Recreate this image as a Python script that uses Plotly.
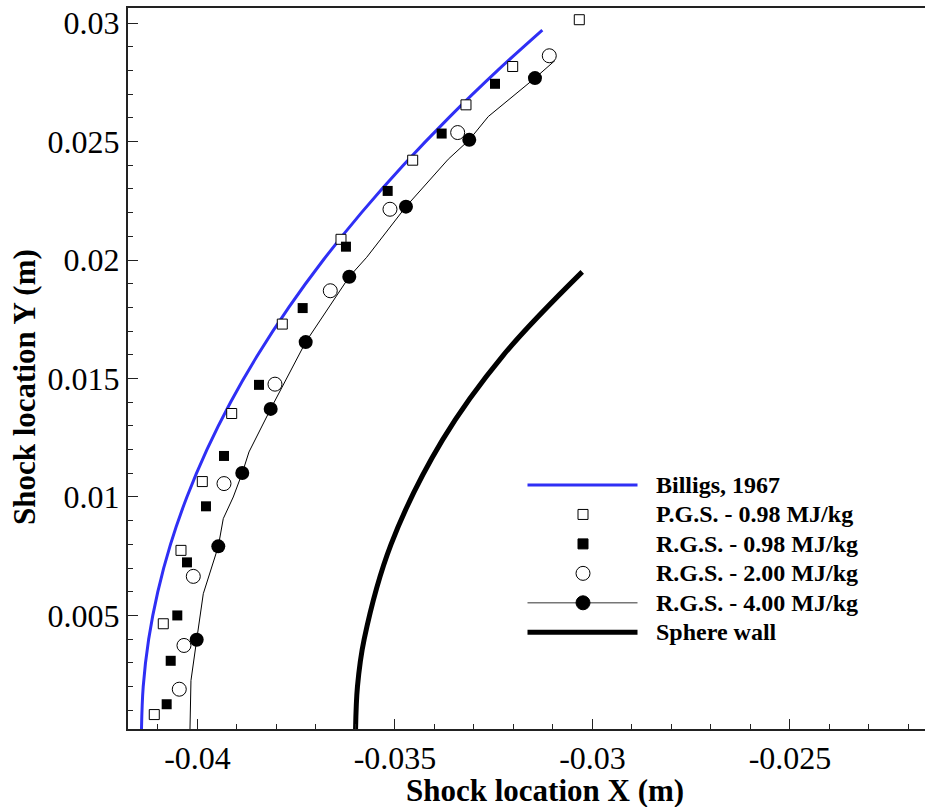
import plotly.graph_objects as go

# ---------------- data ----------------
billigs_x = [-0.04142, -0.041374, -0.041236, -0.041005, -0.040683, -0.040268, -0.039761,
             -0.039162, -0.038471, -0.037689, -0.036815, -0.035848, -0.03479,
             -0.033641, -0.0324, -0.03127]
billigs_y = [0.0, 0.002, 0.004, 0.006, 0.008, 0.010, 0.012,
             0.014, 0.016, 0.018, 0.020, 0.022, 0.024,
             0.026, 0.028, 0.0297]

pgs098_x = [-0.030334, -0.03202, -0.033203, -0.034552, -0.036367, -0.037853,
            -0.039134, -0.039878, -0.040418, -0.040866, -0.041094]
pgs098_y = [0.03014, 0.028166, 0.026548, 0.024212, 0.020874, 0.017296,
            0.013523, 0.010651, 0.007748, 0.004651, 0.000819]

rgs098_x = [-0.032468, -0.033818, -0.035185, -0.036241, -0.037337, -0.038443,
            -0.039329, -0.039785, -0.040266, -0.040511, -0.040678, -0.04078]
rgs098_y = [0.027436, 0.025336, 0.022915, 0.020562, 0.017972, 0.014732,
            0.011732, 0.009607, 0.007241, 0.005002, 0.003088, 0.001255]

rgs200_x = [-0.031094, -0.033413, -0.035127, -0.036638, -0.038038, -0.039329,
            -0.040106, -0.040342, -0.040461]
rgs200_y = [0.028618, 0.025378, 0.022142, 0.018703, 0.014761, 0.010566,
            0.00665, 0.003735, 0.001889]

rgs400_x = [-0.031456, -0.033119, -0.034722, -0.036157, -0.037261, -0.038147,
            -0.038866, -0.039473, -0.04002, -0.04019]
rgs400_y = [0.027676, 0.02507, 0.022252, 0.019295, 0.016536, 0.013718,
            0.011014, 0.007917, 0.003976, 0.000186]

# full computed shock line for 4.00 MJ/kg (has more points than markers)
rgs400_line_x = [-0.030949, -0.031456, -0.032638, -0.033119, -0.033651, -0.034722,
                 -0.035716, -0.036157, -0.037261, -0.038147, -0.038696, -0.038866,
                 -0.039094, -0.039347, -0.039473, -0.039853, -0.04002, -0.040165, -0.04019]
rgs400_line_y = [0.02842, 0.027676, 0.026054, 0.02507, 0.024254, 0.022252,
                 0.020114, 0.019295, 0.016536, 0.013718, 0.011901, 0.011014,
                 0.01, 0.009087, 0.007917, 0.005919, 0.003976, 0.002256, 0.000186]

wall_x = [-0.036, -0.03595, -0.03578, -0.0351, -0.0338, -0.03225, -0.03026]
wall_y = [0.0, 0.002, 0.004, 0.008, 0.0124, 0.016, 0.0195]

x_tickvals = [-0.04, -0.035, -0.03, -0.025]
x_ticktext = ["-0.04", "-0.035", "-0.03", "-0.025"]
y_tickvals = [0.005, 0.01, 0.015, 0.02, 0.025, 0.03]
y_ticktext = ["0.005", "0.01", "0.015", "0.02", "0.025", "0.03"]

names = ["Billigs, 1967", "P.G.S. - 0.98 MJ/kg", "R.G.S. - 0.98 MJ/kg",
         "R.G.S. - 2.00 MJ/kg", "R.G.S. - 4.00 MJ/kg", "Sphere wall"]

x_title = "Shock location X (m)"
y_title = "Shock location Y (m)"

# ---------------- figure ----------------
SERIF = "Liberation Serif"
BLUE = "#2f2ff5"
W, H = 925, 807
ML, MR, MT, MB = 128, 0, 8, 78
PW, PH = W - ML - MR, H - MT - MB


def px_x(px):
    return (px - ML) / PW


def px_y(py):
    return (H - MB - py) / PH


fig = go.Figure()

fig.add_trace(go.Scatter(x=wall_x, y=wall_y, mode="lines", name=names[5],
                         line=dict(color="black", width=5, shape="spline")))
fig.add_trace(go.Scatter(x=billigs_x, y=billigs_y, mode="lines", name=names[0],
                         line=dict(color=BLUE, width=3, shape="spline")))
fig.add_trace(go.Scatter(x=rgs400_line_x, y=rgs400_line_y, mode="lines",
                         name=names[4] + " (line)",
                         line=dict(color="black", width=1), hoverinfo="skip"))
fig.add_trace(go.Scatter(x=pgs098_x, y=pgs098_y, mode="markers", name=names[1],
                         marker=dict(symbol="square", size=10, color="white",
                                     line=dict(color="black", width=1))))
fig.add_trace(go.Scatter(x=rgs098_x, y=rgs098_y, mode="markers", name=names[2],
                         marker=dict(symbol="square", size=10, color="black",
                                     line=dict(width=0))))
fig.add_trace(go.Scatter(x=rgs200_x, y=rgs200_y, mode="markers", name=names[3],
                         marker=dict(symbol="circle", size=14, color="white",
                                     line=dict(color="black", width=1))))
fig.add_trace(go.Scatter(x=rgs400_x, y=rgs400_y, mode="markers", name=names[4],
                         marker=dict(symbol="circle", size=14, color="black",
                                     line=dict(width=0)),
                         cliponaxis=False))

axis_common = dict(
    showgrid=False, zeroline=False,
    showline=True, linecolor="#222222", linewidth=2,
    ticks="inside", ticklen=10, tickwidth=1, tickcolor="#222222",
    tickfont=dict(family=SERIF, size=32, color="black"),
)

fig.update_xaxes(range=[-0.041759, -0.021582], tickmode="array",
                 tickvals=x_tickvals, ticktext=x_ticktext, mirror=True,
                 minor=dict(tickmode="linear", tick0=0, dtick=0.001, ticks="inside",
                            ticklen=5, tickcolor="#222222"),
                 **axis_common)
fig.update_yaxes(range=[0.00021, 0.030634], tickmode="array",
                 tickvals=y_tickvals, ticktext=y_ticktext,
                 minor=dict(tickmode="linear", tick0=0, dtick=0.001, ticks="inside",
                            ticklen=5, tickcolor="#222222"),
                 **axis_common)

# axis titles
fig.add_annotation(text=x_title, xref="paper", yref="paper", x=px_x(545), y=px_y(790),
                   xanchor="center", yanchor="middle", showarrow=False,
                   font=dict(family=SERIF, size=31, color="black", weight="bold"))
fig.add_annotation(text=y_title, xref="paper", yref="paper", x=px_x(24), y=px_y(387),
                   xanchor="center", yanchor="middle", showarrow=False, textangle=-90,
                   font=dict(family=SERIF, size=31, color="black", weight="bold"))

# ---------------- legend (drawn in the Tecplot style) ----------------
LEG_ROW0, LEG_DY = 485.0, 29.45
LEG_L0, LEG_L1, LEG_MK, LEG_TX = 527.5, 637.5, 583.0, 654.0
row = [px_y(LEG_ROW0 + i * LEG_DY) for i in range(6)]
shapes = []


def leg_line(r, color, width):
    shapes.append(dict(type="line", xref="paper", yref="paper",
                       x0=px_x(LEG_L0), x1=px_x(LEG_L1), y0=row[r], y1=row[r],
                       line=dict(color=color, width=width)))


def leg_marker(r, kind, half, fill):
    shapes.append(dict(type=kind, xref="paper", yref="paper",
                       xsizemode="pixel", ysizemode="pixel",
                       xanchor=px_x(LEG_MK), yanchor=row[r],
                       x0=-half, x1=half, y0=-half, y1=half,
                       fillcolor=fill, line=dict(color="black", width=1)))


leg_line(0, BLUE, 3)
leg_marker(1, "rect", 5, "white")
leg_marker(2, "rect", 5, "black")
leg_marker(3, "circle", 7, "white")
leg_line(4, "#777777", 1.5)
leg_marker(4, "circle", 7, "black")
leg_line(5, "black", 5)

for i, nm in enumerate(names):
    fig.add_annotation(text=nm, xref="paper", yref="paper", x=px_x(LEG_TX), y=row[i],
                       xanchor="left", yanchor="middle", showarrow=False,
                       font=dict(family=SERIF, size=24, color="black", weight="bold"))

fig.update_layout(
    width=W, height=H,
    margin=dict(l=ML, r=MR, t=MT, b=MB),
    paper_bgcolor="white", plot_bgcolor="white",
    showlegend=False,
    shapes=shapes,
)

fig.write_html("out.html")
